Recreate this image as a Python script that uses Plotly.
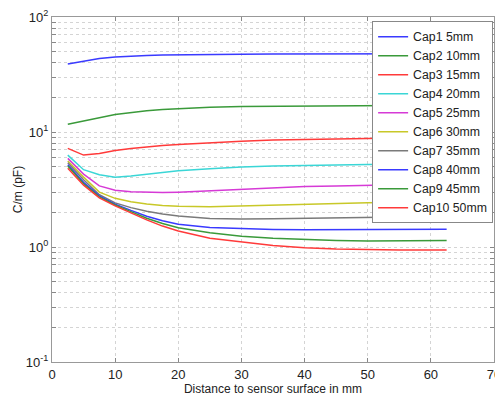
import plotly.graph_objects as go

x_mm = [2.5, 5, 7.5, 10, 12.5, 15, 17.5, 20, 25, 30, 35, 40, 45, 50, 55, 62.5]

cap1 = [39, 41.5, 43.5, 45, 45.8, 46.3, 46.7, 47, 47.3, 47.5, 47.7, 47.8, 47.9, 48, 48, 48]
cap2 = [11.7, 12.4, 13.3, 14.2, 14.8, 15.3, 15.7, 16.0, 16.4, 16.7, 16.8, 16.9, 17.0, 17.0, 17.0, 17.0]
cap3 = [7.2, 6.3, 6.5, 6.9, 7.2, 7.45, 7.65, 7.8, 8.1, 8.3, 8.5, 8.6, 8.7, 8.8, 8.85, 8.9]
cap4 = [6.3, 4.7, 4.25, 4.05, 4.15, 4.3, 4.45, 4.6, 4.8, 4.97, 5.06, 5.13, 5.18, 5.22, 5.25, 5.28]
cap5 = [5.9, 4.3, 3.4, 3.12, 3.02, 2.99, 2.98, 3.0, 3.08, 3.18, 3.28, 3.35, 3.4, 3.45, 3.5, 3.55]
cap6 = [5.6, 4.05, 3.0, 2.65, 2.48, 2.37, 2.3, 2.26, 2.24, 2.28, 2.33, 2.38, 2.41, 2.43, 2.45, 2.47]
cap7 = [5.4, 3.85, 2.85, 2.42, 2.2, 2.05, 1.94, 1.86, 1.77, 1.75, 1.76, 1.78, 1.79, 1.81, 1.82, 1.84]
cap8 = [5.2, 3.65, 2.78, 2.36, 2.08, 1.85, 1.69, 1.58, 1.48, 1.44, 1.42, 1.41, 1.41, 1.42, 1.42, 1.43]
cap9 = [5.05, 3.55, 2.73, 2.32, 2.03, 1.78, 1.6, 1.47, 1.33, 1.24, 1.19, 1.16, 1.14, 1.13, 1.13, 1.14]
cap10 = [4.85, 3.45, 2.67, 2.28, 1.98, 1.72, 1.52, 1.38, 1.19, 1.1, 1.03, 0.985, 0.96, 0.95, 0.94, 0.94]

series = [cap1, cap2, cap3, cap4, cap5, cap6, cap7, cap8, cap9, cap10]
names = ["Cap1 5mm", "Cap2 10mm", "Cap3 15mm", "Cap4 20mm", "Cap5 25mm",
         "Cap6 30mm", "Cap7 35mm", "Cap8 40mm", "Cap9 45mm", "Cap10 50mm"]
colors = ["#3a3aff", "#3a9a3a", "#ff3a3a", "#3ad6d6", "#d63ad6",
          "#c8c828", "#7a7a7a", "#3a3aff", "#3a9a3a", "#ff3a3a"]

y_major = [0.1, 1, 10, 100]
y_major_text = ["10<sup>-1</sup>", "10<sup>0</sup>", "10<sup>1</sup>", "10<sup>2</sup>"]
y_minor_mult = [2, 3, 4, 5, 6, 7, 8, 9]
x_tickvals = [0, 10, 20, 30, 40, 50, 60, 70]

# full y tick list: majors labelled, minors (gridlines only) unlabelled
y_tickvals, y_ticktext = [], []
for i, m in enumerate(y_major):
    y_tickvals.append(m)
    y_ticktext.append(y_major_text[i])
    if m < 100:
        for k in y_minor_mult:
            y_tickvals.append(m * k)
            y_ticktext.append("")

fig = go.Figure()
for ys, nm, c in zip(series, names, colors):
    fig.add_trace(go.Scatter(x=x_mm, y=ys, name=nm, mode="lines",
                             line=dict(color=c, width=1.5)))

font = dict(family="Liberation Sans, Arial, sans-serif", color="#222222")
fig.update_layout(
    width=503, height=398,
    margin=dict(l=44, r=17, t=9, b=44),
    paper_bgcolor="white", plot_bgcolor="white",
    font=dict(**font, size=12),
    showlegend=True,
    legend=dict(x=0.998, y=0.988, xanchor="right", yanchor="top",
                bgcolor="white", bordercolor="#888888", borderwidth=1,
                font=dict(size=12.3), tracegroupgap=0),
)
fig.update_xaxes(
    range=[0, 70], tickvals=x_tickvals, ticks="inside", ticklen=4,
    tickcolor="#888888", tickfont=dict(size=13), automargin=False,
    showline=True, linecolor="#999999", linewidth=1, mirror="ticks",
    showgrid=True, gridcolor="#d4d4d4", griddash="dot", zeroline=False,
    title=dict(text="Distance to sensor surface in mm", font=dict(size=12), standoff=1),
)
fig.update_yaxes(
    type="log", range=[-1, 2], tickvals=y_tickvals, ticktext=y_ticktext,
    ticks="inside", ticklen=4, tickcolor="#888888", tickfont=dict(size=13),
    automargin=False,
    showline=True, linecolor="#999999", linewidth=1, mirror="ticks",
    showgrid=True, gridcolor="#d4d4d4", griddash="dot", zeroline=False,
    title=dict(text="C/m (pF)", font=dict(size=12), standoff=0),
)
fig.write_html("out.html")
